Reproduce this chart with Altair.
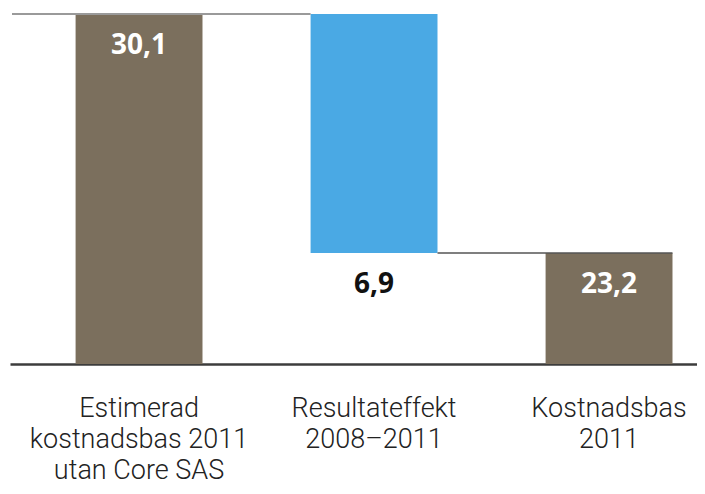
import altair as alt
import pandas as pd

# ---- data ----
categories = ["Estimerad\nkostnadsbas 2011\nutan Core SAS", "Resultateffekt\n2008–2011", "Kostnadsbas\n2011"]
kinds = ["total", "change", "total"]
values = [30.1, -6.9, 23.2]
y_floor = 20.0
y_top = 30.1

# ---- build waterfall table ----
rows = []
running = 0.0
for cat, kind, v in zip(categories, kinds, values):
    if kind == "total":
        start, end = 0.0, v
        running = v
        label_at = v
    else:
        start, end = running, running + v
        running = end
        label_at = min(start, end)
    rows.append(dict(cat=cat, kind=kind, start=start, end=end,
                     label=f"{abs(v):.1f}".replace(".", ","), label_at=label_at))
df = pd.DataFrame(rows)

conn1 = pd.DataFrame([dict(cat=categories[1], y=values[0])])
conn2 = pd.DataFrame([dict(cat=categories[1], cat2=categories[2], y=values[2])])

xscale = alt.Scale(domain=categories, paddingInner=0.46, paddingOuter=0.1917, align=0.728)
yscale = alt.Scale(domain=[y_floor, y_top], clamp=True, nice=False, zero=False)

bars = alt.Chart(df).mark_bar().encode(
    x=alt.X("cat:N", scale=xscale, sort=categories, title=None,
            axis=alt.Axis(labelExpr="split(datum.value, '\\n')", labelAngle=0,
                          ticks=False, domainColor="#3c3c3c", domainWidth=2.5,
                          labelFont="Roboto", labelFontWeight=300, labelFontSize=27,
                          labelColor="#222222", labelLineHeight=31, labelPadding=31,
                          labelBaseline="top", labelLimit=0, grid=False)),
    y=alt.Y("start:Q", scale=yscale, axis=None),
    y2="end:Q",
    color=alt.Color("kind:N", scale=alt.Scale(domain=["total", "change"], range=["#7b6f5d", "#4aa9e4"]), legend=None),
)

labels = alt.Chart(df).mark_text(dy=32, baseline="middle", align="center",
                                 font="Open Sans", fontWeight="bold", fontSize=28).encode(
    x=alt.X("cat:N", scale=xscale, sort=categories, title=None),
    y=alt.Y("label_at:Q", scale=yscale, axis=None),
    text="label:N",
    color=alt.Color("kind:N", scale=alt.Scale(domain=["total", "change"], range=["#ffffff", "#111111"]), legend=None),
)

rule1 = alt.Chart(conn1).mark_rule(color="#9a9a9a", strokeWidth=2).encode(
    x=alt.X("cat:N", scale=xscale, sort=categories, bandPosition=0, title=None),
    x2=alt.value(2),
    y=alt.Y("y:Q", scale=yscale, axis=None),
)

rule2 = alt.Chart(conn2).mark_rule(color="#555555", strokeWidth=1.5).encode(
    x=alt.X("cat:N", scale=xscale, sort=categories, bandPosition=1, title=None),
    x2=alt.X2("cat2:N", bandPosition=1),
    y=alt.Y("y:Q", scale=yscale, axis=None),
)

chart = alt.layer(bars, labels, rule1, rule2).resolve_scale(color="independent").properties(
    width=687, height=350,
    autosize=alt.AutoSizeParams(type="none"),
    padding={"left": 2, "top": 6, "right": 0, "bottom": 122},
).configure_view(stroke=None)

chart.save("out.html", embed_options={"renderer": "svg", "actions": False})
